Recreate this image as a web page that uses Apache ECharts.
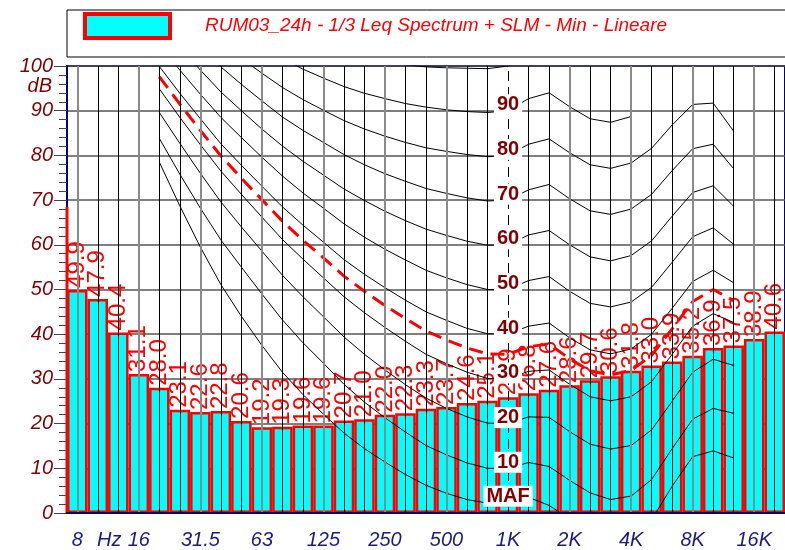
<!DOCTYPE html>
<html>
<head>
<meta charset="utf-8">
<script src="https://cdn.jsdelivr.net/npm/echarts/dist/echarts.min.js"></script>
<style>
  html, body { margin: 0; padding: 0; background: #fff; }
  #chart { width: 785px; height: 550px; }
</style>
</head>
<body>
<div id="chart"></div>
<script>
// 1/3 octave bands, 8 Hz .. 20 kHz
const bands = ['8', '10', '12.5', '16', '20', '25', '31.5', '40', '50', '63', '80', '100', '125', '160', '200', '250', '315', '400', '500', '630', '800', '1K', '1.25K', '1.6K', '2K', '2.5K', '3.15K', '4K', '5K', '6.3K', '8K', '10K', '12.5K', '16K', '20K']
const tickLabels = ['8', '', 'Hz', '16', '', '', '31.5', '', '', '63', '', '', '125', '', '', '250', '', '', '500', '', '', '1K', '', '', '2K', '', '', '4K', '', '', '8K', '', '', '16K', '']
const leqMin = [49.9, 47.9, 40.4, 31.1, 28.0, 23.1, 22.6, 22.8, 20.6, 19.2, 19.3, 19.6, 19.6, 20.7, 21.0, 22.0, 22.3, 23.3, 23.7, 24.6, 25.1, 25.9, 26.8, 27.6, 28.6, 29.7, 30.6, 31.8, 33.0, 33.9, 35.2, 36.9, 37.5, 38.9, 40.6]
const overallLevel = 68.5
const markerBand = '10K'

// equal loudness contours, 20 Hz .. 12.5 kHz (band index 4 .. 32)
const contourStart = 4
const phonMAF = [78.5, 68.7, 59.5, 51.1, 44.0, 37.5, 31.5, 26.5, 22.1, 17.9, 14.4, 11.4, 8.6, 6.2, 4.4, 3.0, 2.2, 2.4, 3.5, 1.7, -1.3, -4.2, -6.0, -5.4, -1.5, 6.0, 12.6, 13.9, 12.3]
const phon10 = [83.8, 75.8, 68.2, 61.1, 55.0, 49.0, 43.2, 38.1, 33.5, 28.8, 24.8, 21.3, 18.1, 15.1, 13.0, 11.2, 10.0, 10.0, 11.3, 10.4, 7.3, 4.5, 3.0, 3.8, 7.5, 14.4, 21.0, 23.4, 22.3]
const phon20 = [89.6, 82.7, 76.0, 69.6, 64.0, 58.6, 53.2, 48.4, 43.9, 39.4, 35.5, 32.0, 28.7, 25.7, 23.4, 21.5, 20.1, 20.0, 21.5, 21.4, 18.2, 15.4, 14.3, 15.1, 18.6, 25.0, 31.5, 34.4, 33.0]
const phon30 = [94.9, 88.5, 82.4, 76.5, 71.3, 66.2, 61.2, 56.8, 52.6, 48.4, 44.8, 41.5, 38.4, 35.5, 33.4, 31.5, 30.1, 30.0, 31.7, 32.0, 28.8, 26.0, 25.1, 26.0, 29.4, 35.5, 41.8, 44.6, 42.6]
const phon40 = [99.9, 93.9, 88.2, 82.6, 77.8, 73.1, 68.5, 64.4, 60.6, 56.7, 53.4, 50.4, 47.6, 45.0, 43.1, 41.3, 40.1, 40.0, 41.8, 42.5, 39.2, 36.5, 35.6, 36.7, 40.0, 45.8, 51.8, 54.3, 51.5]
const phon50 = [104.7, 99.1, 93.7, 88.5, 84.0, 79.6, 75.4, 71.6, 68.2, 64.7, 61.7, 59.0, 56.6, 54.3, 52.6, 51.1, 50.0, 50.0, 52.0, 52.9, 49.6, 46.9, 46.1, 47.2, 50.5, 56.1, 61.8, 63.8, 60.1]
const phon60 = [109.5, 104.2, 99.1, 94.2, 90.0, 85.9, 82.1, 78.7, 75.6, 72.5, 69.9, 67.5, 65.4, 63.5, 62.1, 60.8, 59.9, 60.0, 62.2, 63.2, 60.0, 57.3, 56.4, 57.6, 60.9, 66.4, 71.7, 73.2, 68.6]
const phon70 = [114.3, 109.2, 104.4, 99.8, 95.9, 92.2, 88.6, 85.6, 82.9, 80.2, 77.9, 75.9, 74.2, 72.6, 71.5, 70.5, 69.8, 70.0, 72.3, 73.5, 70.3, 67.6, 66.8, 68.0, 71.3, 76.6, 81.5, 82.5, 77.0]
const phon80 = [119.0, 114.2, 109.6, 105.3, 101.7, 98.4, 95.2, 92.5, 90.1, 87.8, 85.9, 84.3, 82.9, 81.7, 80.9, 80.2, 79.7, 80.0, 82.5, 83.7, 80.6, 77.9, 77.1, 78.3, 81.6, 86.8, 91.4, 91.7, 85.4]
const phon90 = [123.7, 119.2, 114.9, 110.9, 107.5, 104.5, 101.7, 99.3, 97.3, 95.4, 93.9, 92.7, 91.6, 90.8, 90.2, 89.8, 89.6, 90.0, 92.7, 94.0, 90.9, 88.2, 87.4, 88.7, null, null, null, null, null]
const phon100 = [128.4, 124.2, 120.1, 116.4, 113.4, 110.6, 108.2, 106.2, 104.5, 103.0, 101.8, 101.0, 100.3, 99.8, 99.6, 99.5, 99.4, 100.0, null, null, null, null, null, null, null, null, null, null, null]
// loudness contour of the measurement (dashed)
const loudnessContour = [97.6, 91.5, 85.6, 79.9, 74.9, 70.1, 65.3, 61.0, 57.1, 53.0, 49.6, 46.4, 43.5, 40.7, 38.7, 36.9, 35.6, 35.5, 37.2, 37.8, 34.5, 31.8, 30.9, 31.9, 35.3, 41.2, 47.3, 50.0, 47.5]

const contours = [phonMAF, phon10, phon20, phon30, phon40, phon50, phon60, phon70, phon80, phon90, phon100]
const contourNames = ['MAF', '10', '20', '30', '40', '50', '60', '70', '80', '90', '']
const labelBand = '1K'

const title = 'RUM03_24h - 1/3 Leq Spectrum + SLM - Min - Lineare'
const font = 'Liberation Sans, Arial, sans-serif'

function padToBands (vals) {
  const out = bands.map(() => null)
  vals.forEach((v, i) => { out[contourStart + i] = v })
  return out
}

const chart = echarts.init(document.getElementById('chart'), null, { renderer: 'canvas' })

const labelIdx = bands.indexOf(labelBand) - contourStart

const series = [
  {
    // vertical grid lines on band centres
    name: 'grid',
    type: 'line',
    data: bands.map(() => null),
    z: 1,
    silent: true,
    markLine: {
      silent: true,
      animation: false,
      symbol: ['none', 'none'],
      label: { show: false },
      data: bands.map((b, i) => ({
        xAxis: i,
        lineStyle: b === '1K'
          ? { color: '#000', width: 1, type: [10, 6] }
          : (i % 3 === 0 ? { color: '#8a8a8a', width: 2, type: 'solid' } : { color: '#000', width: 1, type: 'solid' })
      }))
    }
  },
  {
    name: title,
    type: 'bar',
    data: leqMin,
    barCategoryGap: '0%',
    z: 2,
    itemStyle: { color: '#00ffff', borderColor: '#ff0000', borderWidth: 2.5 },
    label: {
      show: true,
      position: 'top',
      rotate: 90,
      align: 'left',
      verticalAlign: 'middle',
      distance: 2,
      color: '#ff0000',
      fontSize: 24,
      fontFamily: font,
      formatter: p => p.value.toFixed(1)
    }
  }
]

contours.forEach((c, k) => {
  series.push({
    name: 'phon' + k,
    type: 'line',
    data: padToBands(c),
    symbol: 'none',
    z: 3,
    silent: true,
    lineStyle: { color: '#000', width: 1 }
  })
})

series.push({
  name: 'loudness',
  type: 'line',
  data: padToBands(loudnessContour),
  symbol: 'none',
  z: 4,
  silent: true,
  lineStyle: { color: '#ff0000', width: 3, type: [14, 8] }
})

series.push({
  name: 'overall',
  type: 'line',
  xAxisIndex: 2,
  data: [[0, 0], [0, overallLevel]],
  symbol: 'none',
  clip: false,
  z: 6,
  silent: true,
  lineStyle: { color: '#ff0000', width: 3 },
  markLine: {
    silent: true,
    animation: false,
    symbol: ['none', 'none'],
    label: { show: false },
    lineStyle: { color: '#ff0000', width: 3, type: 'solid' },
    data: [{ xAxis: bands.indexOf(markerBand) }]
  }
})

series.push({
  name: 'phonLabels',
  type: 'scatter',
  xAxisIndex: 0,
  symbol: 'rect',
  symbolSize: 1,
  z: 10,
  silent: true,
  itemStyle: { color: '#ffffff', opacity: 1 },
  data: contours.map((c, k) => ({ name: contourNames[k], value: [labelBand, c[labelIdx]] }))
    .filter(d => d.name !== ''),
  label: {
    show: true,
    position: 'inside',
    offset: [0, -6],
    formatter: p => p.name,
    color: '#800000',
    opacity: 1,
    fontWeight: 'bold',
    fontSize: 20,
    fontFamily: font,
    backgroundColor: '#ffffff',
    padding: [1, 3, 0, 3]
  }
})

const option = {
  animation: false,
  backgroundColor: '#ffffff',
  legend: {
    left: 67,
    top: 10,
    padding: [2, 200, 17, 16],
    borderColor: '#000',
    borderWidth: 1,
    itemWidth: 85,
    itemHeight: 24,
    icon: 'rect',
    itemStyle: { color: '#00ffff', borderColor: '#ff0000', borderWidth: 4 },
    textStyle: { color: '#ff0000', fontStyle: 'italic', fontSize: 19, fontFamily: font, padding: [0, 0, 6, 30] },
    data: [title],
    selectedMode: false
  },
  graphic: [
    {
      type: 'text',
      right: 733,
      top: 76,
      style: { text: 'dB', font: 'italic 20px ' + font, fill: '#800000' }
    }
  ],
  grid: {
    left: 67,
    top: 66,
    right: -13,
    bottom: 37,
    show: true,
    borderColor: '#000080',
    borderWidth: 2,
    backgroundColor: 'transparent'
  },
  xAxis: [
    {
      type: 'category',
      data: bands,
      boundaryGap: true,
      z: 10,
      axisLine: { lineStyle: { color: '#000080', width: 2 } },
      axisTick: {
        alignWithLabel: true,
        interval: i => i % 3 === 0,
        length: 10,
        lineStyle: { color: '#8a8a8a', width: 2 }
      },
      axisLabel: {
        interval: i => tickLabels[i] !== '',
        formatter: (v, i) => tickLabels[i] === 'Hz' ? '{hz|Hz}' : tickLabels[i],
        color: '#1a1a80',
        fontStyle: 'italic',
        fontSize: 20,
        fontFamily: font,
        margin: 17,
        rich: {
          hz: { color: '#1a1a80', fontStyle: 'italic', fontSize: 20, fontFamily: font, padding: [0, 18, 0, 0] }
        }
      },
      splitLine: { show: false }
    },
    {
      type: 'category',
      data: bands,
      position: 'bottom',
      boundaryGap: true,
      axisLine: { show: false },
      axisTick: { alignWithLabel: true, interval: 0, length: 5, lineStyle: { color: '#333', width: 1 } },
      axisLabel: { show: false },
      splitLine: { show: false }
    },
    {
      type: 'value',
      min: 0,
      max: 1,
      show: false
    }
  ],
  yAxis: {
    type: 'value',
    min: 0,
    max: 100,
    interval: 10,
    axisLine: { show: true, lineStyle: { color: '#000080', width: 2 } },
    axisTick: { show: true, length: 13, lineStyle: { color: '#444', width: 1 } },
    minorTick: { show: true, splitNumber: 5, length: 8, lineStyle: { color: '#444', width: 1 } },
    axisLabel: {
      color: '#800000',
      fontStyle: 'italic',
      fontSize: 20,
      fontFamily: font,
      margin: 14
    },
    splitLine: { show: true, lineStyle: { color: '#555', width: 1.5 } }
  },
  series: series
}

chart.setOption(option)
</script>
</body>
</html>
